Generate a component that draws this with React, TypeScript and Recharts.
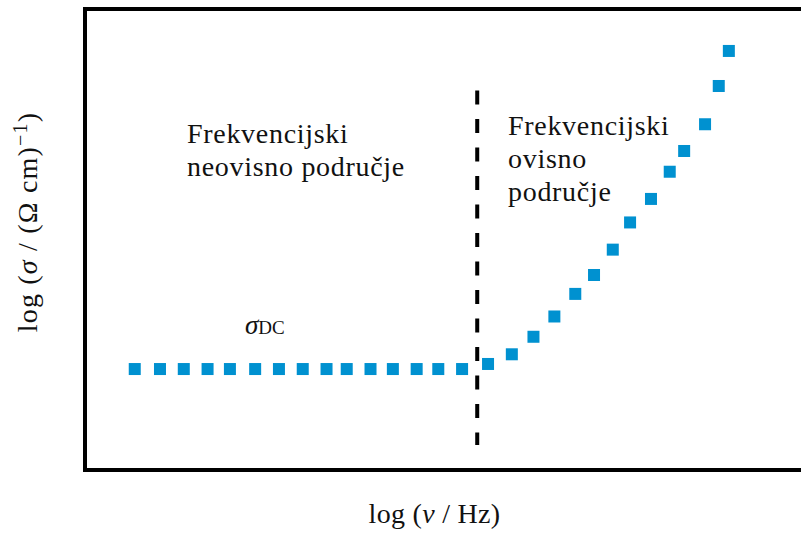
import React from 'react';
import { ScatterChart, Scatter, XAxis, YAxis, ReferenceLine, ReferenceArea, Label } from 'recharts';

// log(ν / Hz) positions of the measured points (arbitrary units)
const logNu = [
  0.69, 1.04, 1.37, 1.70, 2.01, 2.36, 2.69, 3.02, 3.35, 3.63, 3.96, 4.27, 4.60, 4.90, 5.23,
  5.59, 5.92, 6.22, 6.51, 6.80, 7.06, 7.32, 7.56, 7.85, 8.11, 8.31, 8.60, 8.79, 8.93,
];
// log(σ / (Ω cm)^-1) values (arbitrary units)
const logSigma = [
  2.19, 2.19, 2.19, 2.19, 2.19, 2.19, 2.19, 2.19, 2.19, 2.19, 2.19, 2.19, 2.19, 2.19, 2.19,
  2.30, 2.51, 2.89, 3.33, 3.82, 4.23, 4.78, 5.37, 5.88, 6.47, 6.92, 7.50, 8.33, 9.09,
];
const xDomain = [0, 10];
const yDomain = [0, 10];
const boundaryNu = 5.44;
const boundarySigma = [0.54, 8.23];

const data = logNu.map((x, i) => ({ x, y: logSigma[i] }));

const BLUE = '#0091D0';
const FONT = '"Liberation Serif", "Times New Roman", serif';

const Square = (props: any) => {
  const { cx, cy } = props;
  const s = 12;
  return <rect x={cx - s / 2} y={cy - s / 2} width={s} height={s} fill={BLUE} />;
};

const XTitle = (props: any) => {
  const vb = props.viewBox;
  const cx = vb.x + vb.width / 2 - 11;
  return (
    <text x={cx} y={523} textAnchor="middle" fontFamily={FONT} fontSize={28} letterSpacing={0.3} fill="#111">
      log (<tspan fontStyle="italic">ν</tspan> / Hz)
    </text>
  );
};

const YTitle = (props: any) => {
  const cx = 37;
  const cy = 222;
  return (
    <text
      x={cx}
      y={cy}
      transform={`rotate(-90 ${cx} ${cy})`}
      textAnchor="middle"
      fontFamily={FONT}
      fontSize={28}
      letterSpacing={1.2}
      fill="#111"
    >
      log (<tspan fontStyle="italic">σ</tspan> / (Ω cm)
      <tspan dy={-10} fontSize={20}>−1</tspan>
      <tspan dy={10}>)</tspan>
    </text>
  );
};

export default function App() {
  return (
    <div style={{ position: 'absolute', left: 0, top: 0, width: 801, height: 538, background: '#fff' }}>
      <ScatterChart width={801} height={538} margin={{ top: 9, right: -5, bottom: 0, left: 0 }}>
        <XAxis
          type="number"
          dataKey="x"
          domain={xDomain}
          tick={false}
          tickLine={false}
          axisLine={false}
          height={68}
        >
          <Label content={<XTitle />} />
        </XAxis>
        <YAxis
          type="number"
          dataKey="y"
          domain={yDomain}
          tick={false}
          tickLine={false}
          axisLine={false}
          width={85}
        >
          <Label content={<YTitle />} />
        </YAxis>
        <ReferenceArea
          x1={xDomain[0]}
          x2={xDomain[1]}
          y1={yDomain[0]}
          y2={yDomain[1]}
          fill="none"
          stroke="#000"
          strokeWidth={4}
          ifOverflow="visible"
        />
        <ReferenceLine
          segment={[
            { x: boundaryNu, y: boundarySigma[1] },
            { x: boundaryNu, y: boundarySigma[0] },
          ]}
          stroke="#000"
          strokeWidth={4}
          strokeDasharray="14 14.5"
        />
        <Scatter data={data} shape={<Square />} isAnimationActive={false} />
      </ScatterChart>
      <svg
        width={801}
        height={538}
        style={{ position: 'absolute', left: 0, top: 0, pointerEvents: 'none' }}
      >
        <g fontFamily={FONT} fontSize={28} letterSpacing={0.7} fill="#111">
          <text x={187} y={143}>Frekvencijski</text>
          <text x={187} y={176}>neovisno područje</text>
          <text x={508} y={135}>Frekvencijski</text>
          <text x={508} y={168}>ovisno</text>
          <text x={508} y={201}>područje</text>
        </g>
        <text x={245} y={334} fontFamily={FONT} fill="#111">
          <tspan fontStyle="italic" fontSize={27}>σ</tspan>
          <tspan fontSize={19}>DC</tspan>
        </text>
      </svg>
    </div>
  );
}
